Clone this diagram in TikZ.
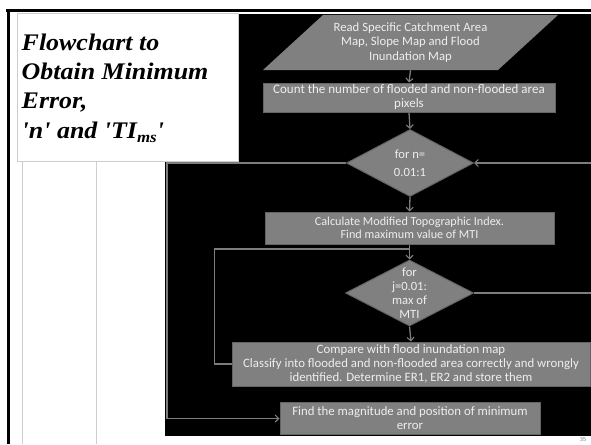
\documentclass[tikz,border=0pt]{standalone}
\usepackage{fontspec}
\newfontfamily\titlefont[FakeStretch=1.09]{Liberation Serif}
\newfontfamily\boxfont{Carlito}
\usetikzlibrary{shapes.geometric,arrows.meta}
\definecolor{boxgray}{RGB}{128,128,128}
\definecolor{boxedge}{RGB}{100,100,100}
\definecolor{linegray}{RGB}{125,125,125}
\definecolor{txtwhite}{RGB}{238,238,238}
\definecolor{paneline}{RGB}{205,205,205}
\begin{document}
\begin{tikzpicture}[x=1pt,y=-1pt,
  proc/.style={rectangle, fill=boxgray, draw=boxedge, line width=1pt, text=txtwhite,
    font=\boxfont\fontsize{12.8}{14}\selectfont, align=center, inner sep=0pt},
  decision/.style={diamond, fill=boxgray, draw=boxedge, line width=1pt, inner sep=0pt,
    minimum width=127pt, minimum height=67pt},
  dtext/.style={text=txtwhite, font=\boxfont\fontsize{12.6}{14}\selectfont, align=center, inner sep=0pt},
  conn/.style={draw=linegray, line width=1.3pt},
  arr/.style={conn, -{Straight Barb[length=3.5pt,width=7pt,line width=1.1pt]}}
]
\useasboundingbox (0,0) rectangle (591,444);
\fill[white] (0,0) rectangle (591,444);

% slide frame
\draw[line width=2.6pt, black] (6,10.5) -- (591,10.5);
\draw[line width=2.6pt, black] (8.5,9.2) -- (8.5,444);
\draw[line width=0.8pt, paneline] (22,161) -- (22,444);
\draw[line width=0.8pt, paneline] (96,161) -- (96,444);

% black picture area
\fill[black] (165,14) rectangle (591,436);

% title box
\node[draw=paneline, fill=white, line width=0.8pt, minimum width=221pt, minimum height=148pt, inner sep=0pt] (tbox) at (127.5,87) {};
\node[anchor=base west, inner sep=0pt, align=left,
  font=\titlefont\bfseries\itshape\fontsize{23.8}{29.3}\selectfont] (title) at (21.5,138)
  {Flowchart to\\Obtain Minimum\\Error,\\'n' and 'TI\raisebox{-4.5pt}{\fontsize{15.5}{15.5}\selectfont ms}'};

% parallelogram input
\node[minimum width=170pt, minimum height=55pt, inner sep=0pt] (read) at (410.5,42.5) {};
\fill[boxgray] (263,70) -- (498,70) -- (558,15) -- (323,15) -- cycle;
\node[dtext, font=\boxfont\fontsize{12.7}{14.5}\selectfont] (readt) at (read.center)
  {Read Specific Catchment Area\\Map, Slope Map and Flood\\Inundation Map};

\node[proc, font=\boxfont\fontsize{13}{14}\selectfont, minimum width=292pt, minimum height=29pt] (count) at (409,97.5)
  {Count the number of flooded and non-flooded area\\pixels};

\node[decision] (d1) at (410,163) {};
\node[dtext, font=\boxfont\fontsize{12.6}{18}\selectfont] (d1t) at (d1.center) {for n=\\0.01:1};

\node[proc, font=\boxfont\fontsize{12.2}{13.5}\selectfont, minimum width=289pt, minimum height=32pt] (calc) at (409.5,228)
  {Calculate Modified Topographic Index.\\Find maximum value of MTI};

\node[decision, minimum width=128pt, minimum height=66pt] (d2) at (409.5,293) {};
\node[dtext] (d2t) at (d2.center) {for\\j=0.01:\\max of\\MTI};

\node[proc, minimum width=358pt, minimum height=44pt] (cmp) at (411,364)
  {Compare with flood inundation map\\Classify into flooded and non-flooded area correctly and wrongly\\identified. Determine ER1, ER2 and store them};

\node[proc, minimum width=260pt, minimum height=32pt] (fin) at (410,418.5)
  {Find the magnitude and position of minimum\\error};

% connectors
\coordinate (junc) at (409.5,249);
\coordinate (r1) at (591,163);
\coordinate (r2) at (591,293);

\draw[arr] (read.south) -- (count.north);
\draw[arr] (count.south) -- (d1.north);
\draw[arr] (d1.south) -- (calc.north);
\draw[arr] (calc.south) -- (d2.north);
\draw[arr] (d2.south) -- (cmp.north);
\draw[arr] (r1) -- (d1.east);
\draw[conn] (d2.east) -- (r2);
\draw[arr] (d1.west) -- ++(-179,0) |- (fin.west);
\draw[conn] (cmp.west) -- ++(-17,0) |- (junc);

\node[font=\sffamily\fontsize{6}{6}\selectfont, text=gray, inner sep=0pt] (pnum) at (583,440) {35};
\end{tikzpicture}
\end{document}
